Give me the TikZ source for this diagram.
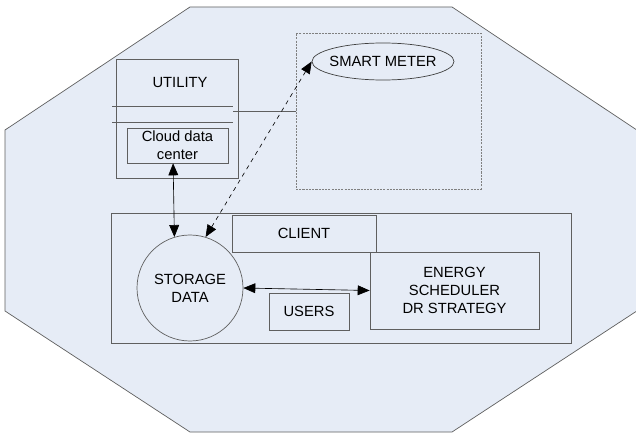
\documentclass[tikz,border=0pt]{standalone}
\usepackage{fontspec}
\setmainfont{Liberation Sans}
\usetikzlibrary{arrows.meta,positioning,shapes.geometric}
\definecolor{zonefill}{RGB}{230,236,246}
\definecolor{linegray}{RGB}{95,95,95}

\begin{document}
\begin{tikzpicture}[
  >={Triangle[length=8.5pt,width=7pt]},
  box/.style={draw=linegray,line width=0.5pt,align=center,inner sep=0pt,
    font=\fontsize{10.5}{12.6}\selectfont},
  link/.style={<->,line width=0.45pt,black}
]
  \useasboundingbox (0,0) rectangle (15.9,10.875);
  % Octagon zone
  \draw[linegray,line width=0.5pt,fill=zonefill]
    (4.75,10.7) -- (11.3,10.7) -- (15.92,7.625) -- (15.92,3.1)
    -- (11.3,0.075) -- (4.75,0.075) -- (0.125,3.1) -- (0.125,7.625) -- cycle;

  % Utility
  \node[box,minimum width=3.05cm,minimum height=2.975cm] (utility) at (4.425,7.9125) {};
  \node[font=\fontsize{10.5}{12.6}\selectfont] (utiltitle) at (4.5,8.825) {UTILITY};
  \draw[linegray,line width=0.5pt] (2.8,8.225) -- (5.825,8.225);
  \draw[linegray,line width=0.5pt] (2.8,7.825) -- (5.825,7.825);
  \node[box,minimum width=2.525cm,minimum height=0.875cm] (cloud) at (4.4375,7.2375) {Cloud data\\center};

  % Smart meter
  \node[box,draw=gray,line width=0.4pt,dash pattern=on 1.5pt off 0.8pt,
    minimum width=4.625cm,minimum height=3.9cm] (meterbox) at (9.7125,8.1) {};
  \node[box,draw=black!75,ellipse,inner xsep=-0.1cm,minimum width=3.55cm,minimum height=0.925cm] (meter) at (9.575,9.3375) {SMART METER};
  \coordinate (tap) at (5.825,8.1);
  \draw[linegray,line width=0.5pt] (tap) -- (tap -| meterbox.west);

  % Client
  \node[box,minimum width=11.5cm,minimum height=3.25cm] (client) at (8.525,3.925) {};
  \node[box,minimum width=3.6cm,minimum height=0.925cm] (clienttag) at (7.6,5.0375) {CLIENT};
  \node[box,minimum width=4.225cm,minimum height=1.925cm] (energy) at (11.3625,3.6125) {ENERGY\\SCHEDULER\\DR STRATEGY};
  \node[box,minimum width=2cm,minimum height=0.925cm] (users) at (7.725,3.0875) {USERS};
  \node[box,circle,minimum size=2.65cm] (storage) at (4.75,3.675) {STORAGE\\DATA};

  % Links
  \draw[link] ([xshift=-0.11cm]cloud.south) -- (storage.107);
  \draw[link,dashed] (storage.73) -- (meter.west);
  \draw[link] (storage.east) -- (energy.west);
\end{tikzpicture}
\end{document}
